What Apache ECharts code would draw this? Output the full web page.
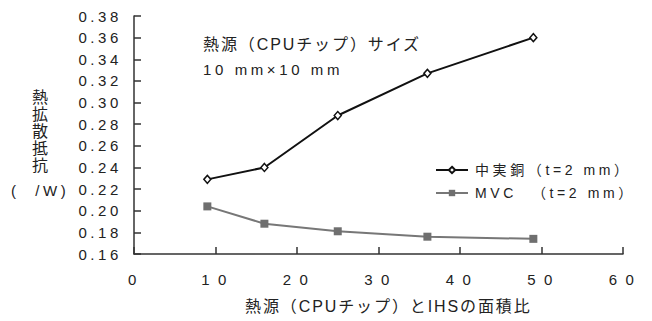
<!DOCTYPE html>
<html>
<head>
<meta charset="utf-8">
<script src="https://cdn.jsdelivr.net/npm/echarts@6/dist/echarts.min.js"></script>
<style>
  html, body { margin: 0; padding: 0; background: #fff; }
  #chart { width: 652px; height: 321px; letter-spacing: 3.6px; }
</style>
</head>
<body>
<div id="chart"></div>
<script>
// Area ratio of heat source (CPU chip) to IHS
const areaRatio = [9, 16, 25, 36, 49];
// Thermal spreading resistance (°C/W)
const solidCopper = [0.229, 0.240, 0.288, 0.327, 0.360];
const mvc = [0.204, 0.188, 0.181, 0.176, 0.174];
const seriesNames = ['中実銅（t=2 mm）', 'MVC  （t=2 mm）'];
const yTicks = { min: 0.16, max: 0.38, step: 0.02 };
const xTicks = { min: 0, max: 60, step: 10 };

const FONT = '"Liberation Sans", Arial, "Noto Sans CJK JP", sans-serif';
const TXT = '#222';
const AXIS = '#333';

const chart = echarts.init(document.getElementById('chart'), null, { renderer: 'svg' });

const pairs = (xs, ys) => xs.map((x, i) => [x, ys[i]]);
// wider digit spacing on the x axis labels
const spreadDigits = v => String(v).split('').join('\u200A');

// the two headings set in Japanese use tighter tracking
chart.on('finished', () => {
  document.querySelectorAll('#chart text').forEach(t => {
    if (t.textContent.indexOf('熱源') === 0) t.style.letterSpacing = '1.9px';
  });
});

chart.setOption({
  animation: false,
  backgroundColor: '#fff',
  textStyle: { fontFamily: FONT, color: TXT },
  grid: { left: 134, top: 16, width: 489, height: 238, containLabel: false },
  xAxis: {
    type: 'value',
    min: xTicks.min, max: xTicks.max, interval: xTicks.step,
    axisLine: { lineStyle: { color: AXIS, width: 1.5 } },
    axisTick: { inside: true, length: 7, lineStyle: { color: AXIS, width: 1.5 } },
    axisLabel: { color: TXT, fontSize: 15, fontFamily: FONT, margin: 18,
      formatter: spreadDigits },
    splitLine: { show: false }
  },
  yAxis: {
    type: 'value',
    min: yTicks.min, max: yTicks.max, interval: yTicks.step,
    axisLine: { show: true, lineStyle: { color: AXIS, width: 1.5 } },
    axisTick: { show: true, inside: true, length: 7, lineStyle: { color: AXIS, width: 1.5 } },
    axisLabel: { color: TXT, fontSize: 15, fontFamily: FONT, margin: 12,
      formatter: v => v.toFixed(2) },
    splitLine: { show: false }
  },
  legend: {
    orient: 'vertical',
    left: 430, top: 158,
    itemWidth: 32, itemHeight: 8, itemGap: 9,
    textStyle: { fontSize: 14, color: TXT, fontFamily: FONT, padding: [0, 0, 0, 2] },
    data: seriesNames
  },
  series: [
    {
      name: seriesNames[0],
      type: 'line',
      data: pairs(areaRatio, solidCopper),
      symbol: 'diamond', symbolSize: [7, 8],
      lineStyle: { color: '#111', width: 2 },
      itemStyle: { color: '#fff', borderColor: '#111', borderWidth: 1.5 },
      z: 3
    },
    {
      name: seriesNames[1],
      type: 'line',
      data: pairs(areaRatio, mvc),
      symbol: 'rect', symbolSize: 8,
      lineStyle: { color: '#777', width: 2 },
      itemStyle: { color: '#6f6f6f', borderColor: '#6f6f6f', borderWidth: 0 },
      z: 2
    }
  ],
  graphic: [
    { type: 'text', left: 203, top: 36,
      style: { text: '熱源（CPUチップ）サイズ', font: '16px ' + FONT, fill: TXT } },
    { type: 'text', left: 203, top: 62,
      style: { text: '10 mm×10 mm', font: '15px ' + FONT, fill: TXT } },
    { type: 'text', left: 32, top: 89,
      style: { text: '熱\n拡\n散\n抵\n抗', font: '16px ' + FONT, fill: TXT, lineHeight: 17 } },
    { type: 'text', left: 11, top: 183,
      style: { text: '(  /W)', font: '15px ' + FONT, fill: TXT } },
    { type: 'text', left: 245, top: 298,
      style: { text: '熱源（CPUチップ）とIHSの面積比', font: '16px ' + FONT, fill: TXT } }
  ]
});
</script>
</body>
</html>
